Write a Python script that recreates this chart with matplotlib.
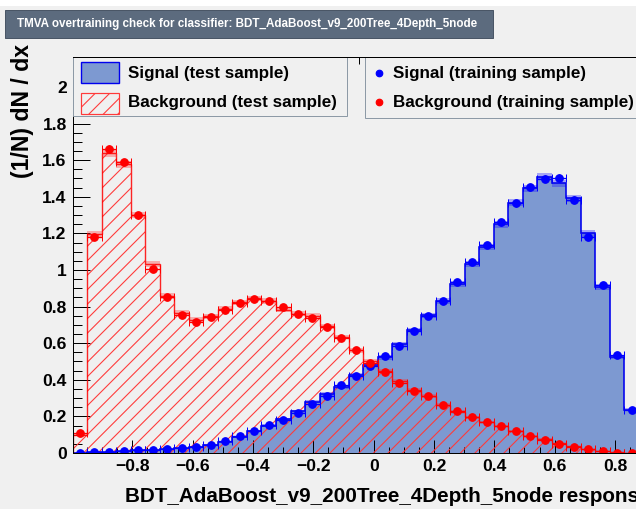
import numpy as np
import matplotlib
matplotlib.use("Agg")
import matplotlib.pyplot as plt
from matplotlib.patches import Rectangle
from matplotlib.lines import Line2D
from matplotlib.ticker import MultipleLocator, FuncFormatter

# ---- data: normalised BDT response distributions (40 bins) ----
x_min, x_max = -0.998, 0.928
n_bins = 40

signal_test = [0.001, 0.004, 0.006, 0.010, 0.014, 0.016, 0.021, 0.026, 0.035, 0.045,
               0.062, 0.088, 0.118, 0.150, 0.185, 0.228, 0.280, 0.322, 0.362, 0.425,
               0.480, 0.522, 0.596, 0.672, 0.752, 0.830, 0.922, 1.032, 1.126, 1.249,
               1.367, 1.447, 1.509, 1.473, 1.391, 1.200, 0.908, 0.525, 0.237, 0.060]
background_test = [0.097, 1.196, 1.637, 1.577, 1.300, 1.032, 0.857, 0.765, 0.729, 0.748,
                   0.789, 0.824, 0.845, 0.830, 0.782, 0.762, 0.749, 0.693, 0.634, 0.561,
                   0.503, 0.448, 0.394, 0.345, 0.312, 0.263, 0.226, 0.195, 0.170, 0.146,
                   0.122, 0.095, 0.075, 0.052, 0.036, 0.022, 0.010, 0.003, 0.001, 0.000]
signal_train = [0.001, 0.003, 0.005, 0.011, 0.015, 0.015, 0.020, 0.027, 0.033, 0.042,
                0.064, 0.091, 0.121, 0.153, 0.183, 0.218, 0.265, 0.313, 0.373, 0.419,
                0.478, 0.530, 0.583, 0.669, 0.748, 0.833, 0.937, 1.043, 1.136, 1.260,
                1.365, 1.451, 1.498, 1.502, 1.383, 1.181, 0.917, 0.538, 0.233, 0.060]
background_train = [0.109, 1.181, 1.660, 1.588, 1.298, 1.006, 0.850, 0.753, 0.716, 0.744,
                    0.780, 0.817, 0.844, 0.829, 0.795, 0.762, 0.740, 0.686, 0.629, 0.565,
                    0.492, 0.440, 0.383, 0.341, 0.311, 0.261, 0.228, 0.197, 0.168, 0.146,
                    0.120, 0.093, 0.073, 0.051, 0.035, 0.022, 0.009, 0.002, 0.001, 0.000]

x_ticks = [-0.8, -0.6, -0.4, -0.2, 0.0, 0.2, 0.4, 0.6, 0.8]
y_ticks = [0, 0.2, 0.4, 0.6, 0.8, 1.0, 1.2, 1.4, 1.6, 1.8, 2.0]
y_max = 2.162
n_events = 80000  # events per sample, sets the size of the statistical errors

title = "TMVA overtraining check for classifier: BDT_AdaBoost_v9_200Tree_4Depth_5node"
x_title = "BDT_AdaBoost_v9_200Tree_4Depth_5node response"
y_title = "(1/N) dN / dx"
legend_left = ["Signal (test sample)", "Background (test sample)"]
legend_right = ["Signal (training sample)", "Background (training sample)"]

# ---- canvas geometry (pixel based) ----
W, H, DPI = 636, 509, 87


def fx(px):
    return px / W


def fy(py):
    return 1 - py / H


def pt(px):
    return px * 72.0 / DPI


BG = "#f0f0f0"
SIG_FILL = "#7d99d1"
SIG_LINE = "#0000ee"
BKG_LINE = "#ff0000"
HATCH_COL = "#ff3a3a"
FONT = ["Liberation Sans", "DejaVu Sans"]

plt.rcParams["hatch.color"] = HATCH_COL
plt.rcParams["hatch.linewidth"] = 0.9
plt.rcParams["font.family"] = FONT
plt.rcParams["font.weight"] = "bold"

fig = plt.figure(figsize=(W / DPI, H / DPI), dpi=DPI, facecolor=BG)
fig.add_artist(Rectangle((0, fy(6)), 1, 1 - fy(6), transform=fig.transFigure,
                         facecolor="white", edgecolor="none", zorder=0))

ax_l, ax_r, ax_t, ax_b = 72.7, 653.5, 57.3, 453.0
ax = fig.add_axes([fx(ax_l), fy(ax_b), (ax_r - ax_l) / W, (ax_b - ax_t) / H])
ax.set_facecolor(BG)

edges = np.linspace(x_min, x_max, n_bins + 1)
centers = 0.5 * (edges[:-1] + edges[1:])
width = edges[1] - edges[0]

sig_t = np.array(signal_test)
bkg_t = np.array(background_test)
sig_tr = np.array(signal_train)
bkg_tr = np.array(background_train)


def stat_err(v):
    return np.sqrt(np.clip(v, 0, None) / (n_events * width))


# signal test: filled histogram
ax.stairs(sig_t, edges, baseline=0, fill=True, facecolor=SIG_FILL, edgecolor="none", zorder=1)
# background test: hatched histogram
ax.stairs(bkg_t, edges, baseline=0, fill=True, facecolor="none", edgecolor=HATCH_COL,
          hatch="//", linewidth=0, zorder=2)

# statistical error bands of the test histograms
es, eb = stat_err(sig_t), stat_err(bkg_t)
ax.stairs(sig_t + es, edges, baseline=sig_t - es, fill=True,
          facecolor=(0.1, 0.1, 1.0, 0.35), edgecolor="none", zorder=3)
ax.stairs(bkg_t + eb, edges, baseline=bkg_t - eb, fill=True,
          facecolor=(1.0, 0.2, 0.2, 0.35), edgecolor="none", zorder=3)

ax.stairs(sig_t, edges, baseline=0, color=SIG_LINE, linewidth=pt(1.6), zorder=4)
ax.stairs(bkg_t, edges, baseline=0, color=BKG_LINE, linewidth=pt(1.4), alpha=0.85, zorder=4)

# training samples: points with error bars
for vals, col in ((sig_tr, "#0000ff"), (bkg_tr, "#ff0000")):
    ax.errorbar(centers, vals, xerr=width / 2, fmt="none", ecolor=col,
                elinewidth=pt(1.3), capsize=pt(4), capthick=pt(1.0), zorder=5)
    ax.errorbar(centers, vals, yerr=stat_err(vals), fmt="o", color=col, ms=pt(7.5),
                mec=col, elinewidth=pt(1.3), capsize=0, zorder=6)

ax.set_xlim(x_min, x_max)
ax.set_ylim(0, y_max)

ax.xaxis.set_major_locator(plt.FixedLocator(x_ticks))
ax.xaxis.set_minor_locator(MultipleLocator(0.05))
ax.yaxis.set_major_locator(plt.FixedLocator(y_ticks))
ax.yaxis.set_minor_locator(MultipleLocator(0.05))


def fmt(v, _pos):
    s = ("%.1f" % v).rstrip("0").rstrip(".")
    if s in ("-0", ""):
        s = "0"
    return s.replace("-", "\u2212")


ax.xaxis.set_major_formatter(FuncFormatter(fmt))
ax.yaxis.set_major_formatter(FuncFormatter(fmt))

tick_font = pt(17.5)
ax.tick_params(which="both", direction="in", top=True, right=True, color="black",
               width=pt(1.0))
ax.tick_params(axis="x", which="major", length=pt(13), pad=pt(6), labelsize=tick_font)
ax.tick_params(axis="x", which="minor", length=pt(6.5))
ax.tick_params(axis="y", which="major", length=pt(17), pad=pt(6), labelsize=tick_font)
ax.tick_params(axis="y", which="minor", length=pt(8.5))
for lab in ax.get_xticklabels() + ax.get_yticklabels():
    lab.set_fontweight("bold")
for sp in ax.spines.values():
    sp.set_linewidth(pt(1.0))
    sp.set_color("black")
    sp.set_zorder(7)

# axis titles
fig.text(fx(125), fy(497), x_title, ha="left", va="center",
         fontsize=pt(20.6), fontweight="bold", color="black")
fig.text(fx(22), fy(44), y_title, ha="center", va="top", rotation=90,
         fontsize=pt(23), fontweight="bold", color="black")

# title box
fig.add_artist(Rectangle((fx(5), fy(38)), fx(493) - fx(5), fy(10) - fy(38),
                         transform=fig.transFigure, facecolor="#5c6b7e",
                         edgecolor="#4a5666", linewidth=pt(1), zorder=2))
fig.text(fx(17), fy(24.5), title, ha="left", va="center", color="white",
         fontsize=pt(11.6), fontweight="bold", zorder=3)

# legends
leg_edge = "#8d9aa6"
leg_font = pt(17)
fig.add_artist(Rectangle((fx(ax_l), fy(115.5)), fx(347) - fx(ax_l), fy(ax_t) - fy(115.5),
                         transform=fig.transFigure, facecolor=BG, edgecolor=leg_edge,
                         linewidth=pt(1), zorder=8))
fig.add_artist(Rectangle((fx(364.5), fy(118.5)), fx(700) - fx(364.5), fy(ax_t) - fy(118.5),
                         transform=fig.transFigure, facecolor=BG, edgecolor=leg_edge,
                         linewidth=pt(1), zorder=8))
# redraw the top axis line over the legend boxes
fig.add_artist(Line2D([fx(ax_l), 1], [fy(ax_t), fy(ax_t)], transform=fig.transFigure,
                      color="black", linewidth=pt(1), zorder=9))

fig.add_artist(Rectangle((fx(80.5), fy(83)), fx(119) - fx(80.5), fy(62) - fy(83),
                         transform=fig.transFigure, facecolor=SIG_FILL, edgecolor=SIG_LINE,
                         linewidth=pt(1.4), zorder=9))
fig.add_artist(Rectangle((fx(80.5), fy(113.5)), fx(119) - fx(80.5), fy(93) - fy(113.5),
                         transform=fig.transFigure, facecolor="none", edgecolor=HATCH_COL,
                         hatch="//", linewidth=pt(1.2), zorder=9))
fig.text(fx(128), fy(73.5), legend_left[0], ha="left", va="center", fontsize=leg_font,
         fontweight="bold", zorder=10)
fig.text(fx(128), fy(102.5), legend_left[1], ha="left", va="center", fontsize=leg_font,
         fontweight="bold", zorder=10)

fig.add_artist(Line2D([fx(379.3)], [fy(73)], transform=fig.transFigure, marker="o",
                      color="#0000ff", ms=pt(6.5), linestyle="none", zorder=10))
fig.add_artist(Line2D([fx(379.3)], [fy(102)], transform=fig.transFigure, marker="o",
                      color="#ff0000", ms=pt(6.5), linestyle="none", zorder=10))
fig.text(fx(393), fy(73.5), legend_right[0], ha="left", va="center", fontsize=leg_font,
         fontweight="bold", zorder=10)
fig.text(fx(393), fy(102.5), legend_right[1], ha="left", va="center", fontsize=leg_font,
         fontweight="bold", zorder=10)

fig.savefig("out.png", dpi=DPI, facecolor=BG)
